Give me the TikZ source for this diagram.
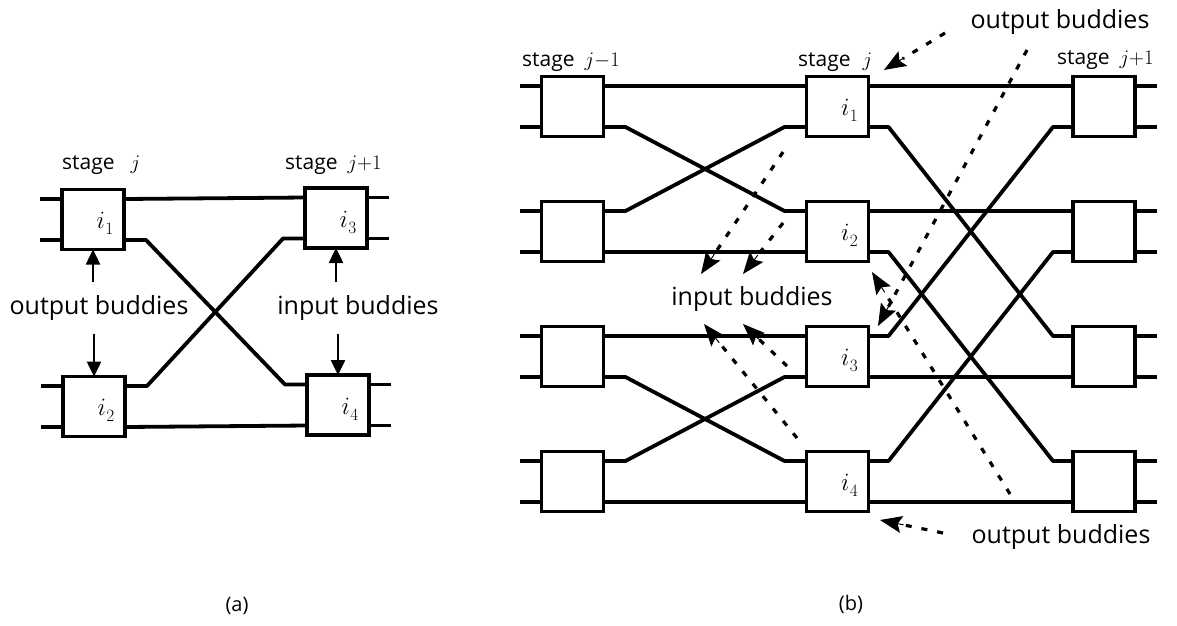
\documentclass[tikz,border=0pt]{standalone}
\usepackage{fontspec}
\setmainfont{Open Sans}
\usetikzlibrary{arrows.meta,calc}

% switch label: italic i with a lowered index
\newcommand\ilab[1]{$i$\kern0.5pt\raisebox{-6pt}{\fontsize{19}{21}\selectfont$#1$}}

% one switch box with its four port coordinates
% #1 name, #2 x, #3 y, #4 label
\newcommand\swbox[4]{%
  \node[swb] (#1) at (#2,#3) {};
  \node[boxlbl] (#1-t) at ([shift={(12,4)}]#1.center) {#4};
  \coordinate (#1-a) at ([yshift=-9.5pt]#1.north west);
  \coordinate (#1-b) at ([yshift=9.5pt]#1.south west);
  \coordinate (#1-c) at ([yshift=-9.5pt]#1.north east);
  \coordinate (#1-d) at ([yshift=9.5pt]#1.south east);
}
% short input / output leads
\newcommand\leadsin[1]{\draw[wire] (#1-a) -- ++(-22,0); \draw[wire] (#1-b) -- ++(-22,0);}
\newcommand\leadsout[1]{\draw[wire] (#1-c) -- ++(22,0); \draw[wire] (#1-d) -- ++(22,0);}
% crossing wire: out port, in port, horizontal run at both ends
\newcommand\xwire[3]{\draw[wire] (#1) -- ++(#3,0) -- ([xshift=-#3pt]#2) -- (#2);}

\tikzset{
  wire/.style={line width=3.8pt, line join=round},
  swb/.style={draw, line width=3.8pt, minimum width=62pt, minimum height=60pt,
    inner sep=0pt, outer sep=0pt},
  boxlbl/.style={font=\fontsize{28}{32}\selectfont, inner sep=0pt},
  stagelbl/.style={font=\fontsize{21}{24}\selectfont, anchor=base west, inner sep=0pt},
  budlbl/.style={font=\fontsize{25}{30}\selectfont, anchor=base, inner sep=0pt},
  caplbl/.style={font=\fontsize{20}{24}\selectfont, anchor=base, inner sep=0pt},
  solarrow/.style={line width=2.5pt, -{Triangle[length=15pt,width=14pt]}},
  dotline/.style={line width=3.2pt, dash pattern=on 6pt off 10pt},
  dothead/.style={line width=1pt, -{Stealth[length=22pt,width=17pt,inset=4pt]}},
}

\begin{document}
\begin{tikzpicture}[x=1pt, y=-1pt]
\useasboundingbox[fill=white] (0,0) rectangle (1177,625);

% ---------------- (a) two stages, four switches ----------------
\swbox{A1}{93}{219.5}{\ilab{1}}
\swbox{A2}{94}{406.5}{\ilab{2}}
\swbox{A3}{336}{218}{\ilab{3}}
\swbox{A4}{338}{405}{\ilab{4}}
\leadsin{A1} \leadsin{A2}
\leadsout{A3} \leadsout{A4}
\draw[wire] (A1-c) -- (A3-a);
\draw[wire] (A2-d) -- (A4-b);
\xwire{A1-d}{A4-a}{22}
\xwire{A2-c}{A3-b}{22}

\node[stagelbl] (sa1) at (62,169) {stage\hspace{16pt}$j$};
\node[stagelbl] (sa2) at (285,169) {stage\hspace{10pt}$j{+}1$};
\node[budlbl] (ob) at (99,314) {output buddies};
\node[budlbl] (ib) at (358,314) {input buddies};
\draw[solarrow] ([yshift=-32pt]A1.south) -- (A1.south);
\draw[solarrow] ([yshift=43pt]A2.north) -- (A2.north);
\draw[solarrow] ([yshift=-34pt]A3.south) -- (A3.south);
\draw[solarrow] ([yshift=41pt]A4.north) -- (A4.north);
\node[caplbl] (capa) at (237,611) {(a)};

% ---------------- (b) three stages of a butterfly ----------------
\foreach \r/\yy in {1/106.5, 2/231.5, 3/356.5, 4/481.5}{
  \swbox{P\r}{572.5}{\yy}{}
  \swbox{R\r}{1104}{\yy}{}
  \leadsin{P\r}
  \leadsout{R\r}
}
\swbox{Q1}{837.5}{106.5}{\ilab{1}}
\swbox{Q2}{837.5}{231.5}{\ilab{2}}
\swbox{Q3}{837.5}{356.5}{\ilab{3}}
\swbox{Q4}{837.5}{481.5}{\ilab{4}}

% stage j-1 to stage j
\draw[wire] (P1-c) -- (Q1-a);
\draw[wire] (P2-d) -- (Q2-b);
\draw[wire] (P3-c) -- (Q3-a);
\draw[wire] (P4-d) -- (Q4-b);
\xwire{P1-d}{Q2-a}{22}
\xwire{P2-c}{Q1-b}{22}
\xwire{P3-d}{Q4-a}{22}
\xwire{P4-c}{Q3-b}{22}

% stage j to stage j+1
\draw[wire] (Q1-c) -- (R1-a);
\draw[wire] (Q2-c) -- (R2-a);
\draw[wire] (Q3-d) -- (R3-b);
\draw[wire] (Q4-d) -- (R4-b);
\xwire{Q1-d}{R3-a}{20}
\xwire{Q2-d}{R4-a}{20}
\xwire{Q3-c}{R1-b}{20}
\xwire{Q4-c}{R2-b}{20}

\node[stagelbl] (sb1) at (522,66) {stage\hspace{10pt}$j{-}1$};
\node[stagelbl] (sb2) at (798,66) {stage\hspace{12pt}$j$};
\node[stagelbl] (sb3) at (1057,64) {stage\hspace{10pt}$j{+}1$};
\node[budlbl] (obt) at (1060,28) {output buddies};
\node[budlbl] (ibb) at (752,305) {input buddies};
\node[budlbl] (obb) at (1061,543) {output buddies};
\node[caplbl] (capb) at (851,610) {(b)};

% pointers to the buddy pairs: dotted shaft, solid head
\coordinate (o1s) at (945,33);   \coordinate (o1e) at (884,70);
\coordinate (o2s) at (1027,50);  \coordinate (o2e) at (878,326);
\coordinate (o3s) at (1010,494); \coordinate (o3e) at (872,272);
\coordinate (o4s) at (943,533);  \coordinate (o4e) at (880,520);
\coordinate (i1s) at (783,152);  \coordinate (i1e) at (701,274);
\coordinate (i2s) at (783,223);  \coordinate (i2e) at (743,274);
\coordinate (i3s) at (797,438);  \coordinate (i3e) at (704,324);
\coordinate (i4s) at (787,366);  \coordinate (i4e) at (743,324);
\foreach \p in {o1,o2,o3,o4,i1,i2,i3,i4}{
  \draw[dotline] (\p s) -- ($(\p e)!22pt!(\p s)$);
  \draw[dothead] ($(\p e)!24pt!(\p s)$) -- (\p e);
}
\end{tikzpicture}
\end{document}
